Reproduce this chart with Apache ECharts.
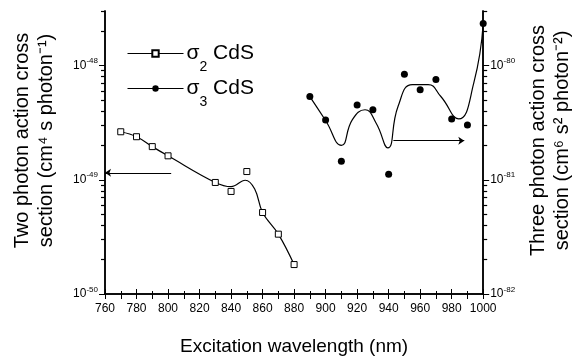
<!DOCTYPE html>
<html>
<head>
<meta charset="utf-8">
<script src="https://cdn.jsdelivr.net/npm/echarts@6/dist/echarts.min.js"></script>
<style>
html,body{margin:0;padding:0;background:#fff;}
#chart{width:582px;height:362px;}
</style>
</head>
<body>
<div id="chart"></div>
<script>
// ---- data ----
const xTicks = [760, 780, 800, 820, 840, 860, 880, 900, 920, 940, 960, 980, 1000];

// sigma2 (two-photon) measured points, left axis
const wavelength2 = [770, 780, 790, 800, 830, 840, 850, 860, 870, 880];
const sigma2 = [2.63e-49, 2.38e-49, 1.95e-49, 1.62e-49, 9.47e-50, 7.9e-50, 1.18e-49, 5.17e-50, 3.34e-50, 1.81e-50];
// sigma2 guide curve
const curve2Wavelength = [770, 780, 790, 800, 830, 840, 849, 855, 860, 870, 880];
const curve2Values = [2.63e-49, 2.38e-49, 1.95e-49, 1.62e-49, 9.47e-50, 8.7e-50, 9.9e-50, 8.3e-50, 5.17e-50, 3.34e-50, 1.81e-50];

// sigma3 (three-photon) measured points, right axis
const wavelength3 = [890, 900, 910, 920, 930, 940, 950, 960, 970, 980, 990, 1000];
const sigma3 = [5.35e-81, 3.34e-81, 1.45e-81, 4.52e-81, 4.11e-81, 1.12e-81, 8.39e-81, 6.12e-81, 7.54e-81, 3.41e-81, 3.02e-81, 2.33e-80];
// sigma3 fitted curve
const curve3Wavelength = [890, 900, 910, 917, 925, 932, 939.5, 946, 955, 965, 973, 984.4, 994, 1000];
const curve3Values = [5.35e-81, 3.3e-81, 2.0e-81, 3.36e-81, 4.1e-81, 3.14e-81, 1.9e-81, 4.4e-81, 6.8e-81, 6.8e-81, 5.38e-81, 3.41e-81, 7.0e-81, 2.33e-80];

// arrows indicating which axis each data set belongs to
const arrowLeft = [[802, 1.15e-49], [760, 1.15e-49]];
const arrowRight = [[943, 2.2e-81], [988, 2.2e-81]];

// axis ranges (in the data's own units) and base units of each axis
const leftRange = [1e-50, 3e-48];
const rightRange = [1e-82, 3e-80];
const leftUnitExp = -50;
const rightUnitExp = -82;
const minorMult = [2, 3, 4, 5, 6, 7, 8, 9];

const FONT = '"Liberation Sans", Arial, sans-serif';
const leftUnit = Math.pow(10, leftUnitExp);
const rightUnit = Math.pow(10, rightUnitExp);

function pair(xs, ys, unit) { return xs.map((x, i) => [x, ys[i] / unit]); }
// minor tick positions, as exponents relative to the axis unit
function minorTickExps(range, unit) {
  const out = [];
  const lo = Math.round(range[0] / unit), hi = range[1] / unit;
  for (let d = lo; d < hi; d *= 10) minorMult.forEach(m => { const v = d * m; if (v <= hi * 1.0001) out.push(Math.log10(v)); });
  return out;
}

function powLabelFor(unitExp) {
  return function (v) {
    const e = Math.log10(v);
    const r = Math.round(e);
    if (Math.abs(e - r) > 1e-6) return '';
    return '{b|10}{s|' + (r + unitExp) + '}';
  };
}
const powRich = {
  b: { fontSize: 12, fontFamily: FONT, color: '#000' },
  s: { fontSize: 8, fontFamily: FONT, color: '#000', verticalAlign: 'top', padding: [0, 0, 9, 0] }
};

const chart = echarts.init(document.getElementById('chart'), null, { renderer: 'canvas' });

const axisNameStyle = { fontSize: 20, fontFamily: FONT, color: '#000', lineHeight: 24, align: 'center', padding: [0, 0, 0, 24] };

function minorAxis(range, unit, pos) {
  const vals = minorTickExps(range, unit);
  return {
    type: 'value', min: 0, max: Math.log10(range[1] / unit), position: pos,
    axisLine: { show: true, lineStyle: { color: '#000', width: 1.5 } },
    axisTick: { show: true, length: 4, customValues: vals, lineStyle: { color: '#000', width: 1.2 } },
    axisLabel: { show: true, customValues: vals, fontSize: 6, color: 'rgba(255,255,255,0)' },
    splitLine: { show: false }
  };
}

const option = {
  animation: false,
  backgroundColor: '#fff',
  grid: { left: 105, right: 92, top: 11, bottom: 68, containLabel: false },
  legend: {
    left: 122, top: 38, orient: 'vertical', itemGap: 4,
    itemWidth: 56, itemHeight: 8,
    data: ['s2', 's3'],
    lineStyle: { color: '#000', width: 1, opacity: 1 },
    formatter: function (n) {
      return n === 's2' ? '{g|σ}{sub|2}{g| CdS}' : '{g|σ}{sub|3}{g| CdS}';
    },
    textStyle: {
      padding: [0, 0, 0, -2],
      rich: {
        g: { fontSize: 21, fontFamily: FONT, color: '#000' },
        sub: { fontSize: 14, fontFamily: FONT, color: '#000', verticalAlign: 'bottom', padding: [0, 0, -10, 0] }
      }
    }
  },
  xAxis: [
    {
      type: 'value', min: 760, max: 1000, interval: 20, position: 'bottom',
      name: 'Excitation wavelength (nm)', nameLocation: 'middle', nameGap: 43,
      nameTextStyle: { fontSize: 19, fontFamily: FONT, color: '#000' },
      axisLine: { show: true, lineStyle: { color: '#000', width: 1.5 } },
      axisTick: { show: true, inside: true, length: 5, lineStyle: { color: '#000', width: 1 } },
      minorTick: { show: true, splitNumber: 2, length: 3, lineStyle: { color: '#000', width: 1 } },
      axisLabel: { fontSize: 12, fontFamily: FONT, color: '#000', margin: 9, formatter: v => String(v) },
      splitLine: { show: false }
    },
    {
      type: 'value', min: 760, max: 1000, interval: 10, position: 'top',
      axisLine: { show: true, lineStyle: { color: '#000', width: 1.5 } },
      axisTick: { show: true, inside: true, length: 5, lineStyle: { color: '#000', width: 1 } },
      axisLabel: { show: false },
      splitLine: { show: false }
    }
  ],
  yAxis: [
    {
      type: 'log', logBase: 10, min: leftRange[0] / leftUnit, max: leftRange[1] / leftUnit, position: 'left',
      name: 'Two photon action cross\nsection (cm⁴ s photon⁻¹)',
      nameLocation: 'middle', nameGap: 47, nameRotate: 90,
      nameTextStyle: axisNameStyle,
      axisLine: { show: true, lineStyle: { color: '#000', width: 1.5 } },
      axisTick: { show: true, inside: false, length: 6, lineStyle: { color: '#000', width: 1 } },
      axisLabel: { formatter: powLabelFor(leftUnitExp), rich: powRich, margin: 7, showMaxLabel: false },
      splitLine: { show: false }
    },
    {
      type: 'log', logBase: 10, min: rightRange[0] / rightUnit, max: rightRange[1] / rightUnit, position: 'right',
      name: 'Three photon action cross\nsection (cm⁶ s² photon⁻²)',
      nameLocation: 'middle', nameGap: 37, nameRotate: 90,
      nameTextStyle: axisNameStyle,
      axisLine: { show: true, lineStyle: { color: '#000', width: 1.5 } },
      axisTick: { show: true, inside: false, length: 6, lineStyle: { color: '#000', width: 1 } },
      axisLabel: { formatter: powLabelFor(rightUnitExp), rich: powRich, margin: 7, showMaxLabel: false },
      splitLine: { show: false }
    },
    minorAxis(leftRange, leftUnit, 'left'),
    minorAxis(rightRange, rightUnit, 'right')
  ],
  series: [
    {
      name: 'fit2', type: 'line', xAxisIndex: 0, yAxisIndex: 0,
      data: pair(curve2Wavelength, curve2Values, leftUnit), smooth: 0.4, showSymbol: false, symbol: 'none',
      lineStyle: { color: '#000', width: 1.2 }, silent: true, z: 2
    },
    {
      name: 's2', type: 'line', xAxisIndex: 0, yAxisIndex: 0,
      data: pair(wavelength2, sigma2, leftUnit), symbol: 'rect', symbolSize: 6, showSymbol: true,
      lineStyle: { color: 'rgba(0,0,0,0)', width: 0 },
      itemStyle: { color: '#fff', borderColor: '#000', borderWidth: 1 }, z: 3
    },
    {
      name: 'fit3', type: 'line', xAxisIndex: 0, yAxisIndex: 1,
      data: pair(curve3Wavelength, curve3Values, rightUnit), smooth: 0.5, showSymbol: false, symbol: 'none',
      lineStyle: { color: '#000', width: 1.2 }, silent: true, z: 2
    },
    {
      name: 's3', type: 'line', xAxisIndex: 0, yAxisIndex: 1,
      data: pair(wavelength3, sigma3, rightUnit), symbol: 'circle', symbolSize: 7, showSymbol: true,
      lineStyle: { color: 'rgba(0,0,0,0)', width: 0 },
      itemStyle: { color: '#000', borderColor: '#000', borderWidth: 0 }, z: 3
    },
    {
      name: 'arrowL', type: 'lines', coordinateSystem: 'cartesian2d', xAxisIndex: 0, yAxisIndex: 0,
      symbol: ['none', 'arrow'], symbolSize: 6,
      lineStyle: { color: '#000', width: 1, opacity: 1 },
      data: [{ coords: arrowLeft.map(p => [p[0], p[1] / leftUnit]) }]
    },
    {
      name: 'arrowR', type: 'lines', coordinateSystem: 'cartesian2d', xAxisIndex: 0, yAxisIndex: 1,
      symbol: ['none', 'arrow'], symbolSize: 6,
      lineStyle: { color: '#000', width: 1, opacity: 1 },
      data: [{ coords: arrowRight.map(p => [p[0], p[1] / rightUnit]) }]
    }
  ]
};
chart.setOption(option);
</script>
</body>
</html>
